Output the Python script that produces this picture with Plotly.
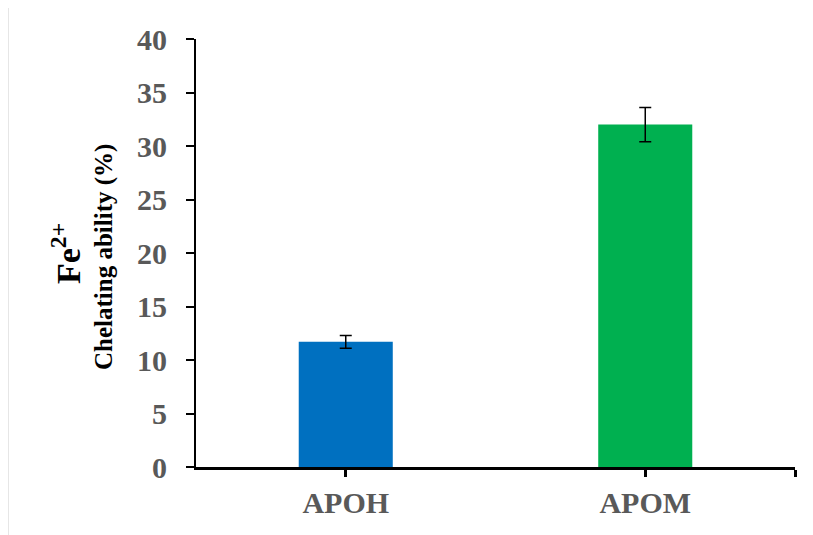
import plotly.graph_objects as go

categories = ["APOH", "APOM"]
values = [11.7, 32.0]
errors = [0.6, 1.6]
colors = ["#0070C0", "#00B050"]
y_ticks = [0, 5, 10, 15, 20, 25, 30, 35, 40]

positions = list(range(len(categories)))
text_color = "#595959"
font_family = "Liberation Serif, Times New Roman, serif"

fig = go.Figure()
fig.add_trace(go.Bar(
    x=positions, y=values, width=0.314,
    marker=dict(color=colors, line=dict(width=0)),
    error_y=dict(type="data", array=errors, visible=True,
                 color="black", thickness=1.5, width=6),
    showlegend=False,
))

fig.update_layout(
    width=813, height=535,
    margin=dict(l=188, r=26, t=31, b=76),
    paper_bgcolor="white", plot_bgcolor="white",
    font=dict(family=font_family, color=text_color),
    xaxis=dict(
        range=[-0.5, len(categories) - 0.5],
        tickmode="array",
        tickvals=positions + [len(categories) - 0.5],
        ticktext=[f"<b>{c}</b>" for c in categories] + [""],
        tickfont=dict(size=30, family=font_family, color=text_color),
        showline=True, linecolor="black", linewidth=3,
        ticks="outside", ticklen=7, tickwidth=2.5, tickcolor="black",
        showgrid=False, zeroline=False,
        ticklabelstandoff=0,
    ),
    yaxis=dict(
        range=[0, 40],
        tickmode="array",
        tickvals=y_ticks,
        ticktext=[f"<b>{t}</b>" for t in y_ticks],
        tickfont=dict(size=30, family=font_family, color=text_color),
        showline=True, linecolor="black", linewidth=2,
        ticks="outside", ticklen=8, tickwidth=2, tickcolor="black",
        showgrid=False, zeroline=False,
        ticklabelstandoff=13,
    ),
    annotations=[
        dict(text="<b>Fe<sup>2+</sup></b>", xref="paper", yref="paper",
             x=0, y=0.5, xanchor="center", yanchor="middle", xshift=-130, yshift=-1,
             textangle=-90, showarrow=False,
             font=dict(size=34, family=font_family, color="black")),
        dict(text="<b>Chelating ability (%)</b>", xref="paper", yref="paper",
             x=0, y=0.5, xanchor="center", yanchor="middle", xshift=-92, yshift=-4,
             textangle=-90, showarrow=False,
             font=dict(size=25, family=font_family, color="black")),
    ],
    shapes=[
        dict(type="line", xref="paper", yref="paper",
             x0=-0.3140, x1=-0.3140, y0=-0.2, y1=1.0748,
             line=dict(color="#D9D9D9", width=1.5)),
        dict(type="line", xref="paper", yref="paper",
             x0=-0.3140, x1=1.1, y0=1.0748, y1=1.0748,
             line=dict(color="#D9D9D9", width=1.5)),
    ],
)

fig.write_html("out.html")
